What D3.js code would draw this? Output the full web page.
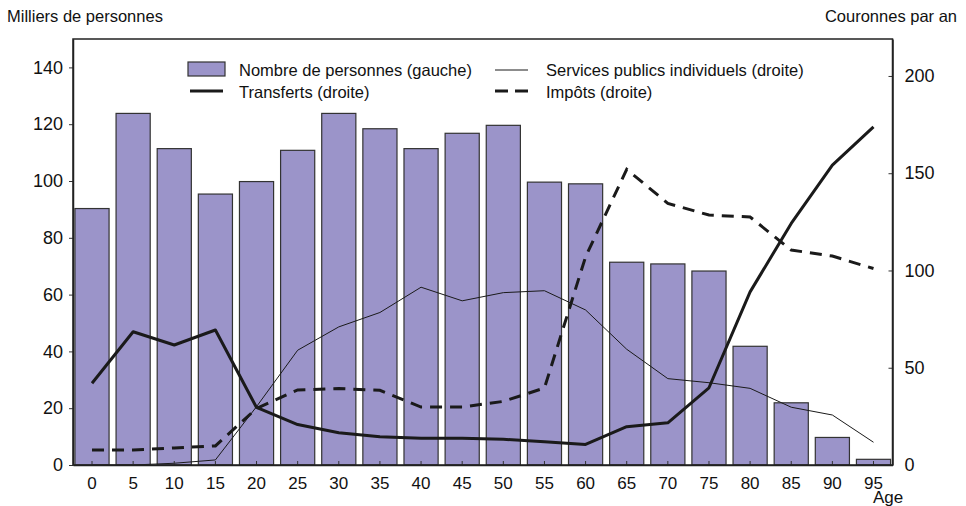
<!DOCTYPE html>
<meta charset="utf-8">
<script src="https://cdn.jsdelivr.net/npm/d3@7"></script>
<style>
  body { margin: 0; background: #fff; }
  text { font-family: "Liberation Sans", Arial, sans-serif; fill: #111; }
</style>
<body>
<script>

var width = 966
var height = 506

var ages = ["0", "5", "10", "15", "20", "25", "30", "35", "40", "45", "50", "55", "60", "65", "70", "75", "80", "85", "90", "95"]
var personnes = [90.3, 123.8, 111.4, 95.4, 99.8, 110.8, 123.8, 118.4, 111.4, 116.8, 119.6, 99.6, 99, 71.4, 70.8, 68.3, 41.8, 21.9, 9.7, 2]
var services = [0, 0, 0.9, 2.6, 30, 59, 71, 78.4, 91.4, 84.4, 88.6, 89.6, 79.7, 59.5, 44.4, 42.3, 39.4, 29.7, 25.7, 11.7]
var transferts = [42, 68.5, 61.7, 69.4, 29.6, 20.8, 16.6, 14.5, 13.7, 13.7, 13.2, 12, 10.6, 19.7, 21.7, 39.7, 89, 124.2, 154.2, 173.8]
var impots = [7.7, 7.7, 8.8, 9.8, 29.1, 38.6, 39.3, 38.4, 29.8, 29.8, 32.7, 39.6, 107, 152, 134.5, 128.5, 127.5, 110.5, 107.4, 101]
var leftTicks = [0, 20, 40, 60, 80, 100, 120, 140]
var rightTicks = [0, 50, 100, 150, 200]

var pLeft = 73, pRight = 892.5, pTop = 39, pBottom = 465

var x = d3.scaleBand().domain(ages).range([pLeft, pRight]).paddingInner(0.17).paddingOuter(0.047)
var yL = d3.scaleLinear().domain([0, 150]).range([pBottom, pTop])
var yR = d3.scaleLinear().domain([0, 219]).range([pBottom, pTop])

var svg = d3.select("body").append("svg")
            .attr("width", width)
            .attr("height", height)

svg.append("g").selectAll("rect")
   .data(personnes)
   .enter().append("rect")
   .attr("x", function(d, i) { return x(ages[i]) })
   .attr("y", function(d) { return yL(d) })
   .attr("width", x.bandwidth())
   .attr("height", function(d) { return yL(0) - yL(d) })
   .attr("fill", "#9b94c9")
   .attr("stroke", "#333")
   .attr("stroke-width", 1.2)

var cx = function(d, i) { return x(ages[i]) + x.bandwidth() / 2 }
var line = d3.line().x(cx).y(function(d) { return yR(d) })

svg.append("path").attr("d", line(services))
   .attr("fill", "none").attr("stroke", "#1a1a1a").attr("stroke-width", 1)
svg.append("path").attr("d", line(impots))
   .attr("fill", "none").attr("stroke", "#1a1a1a").attr("stroke-width", 3).attr("stroke-dasharray", "12,8")
svg.append("path").attr("d", line(transferts))
   .attr("fill", "none").attr("stroke", "#1a1a1a").attr("stroke-width", 3).attr("stroke-linejoin", "round")

// axes
var axL = svg.append("g")
    .attr("transform", "translate(" + pLeft + ",0)")
    .call(d3.axisLeft(yL).tickValues(leftTicks).tickSizeInner(4).tickSizeOuter(0).tickPadding(6))
axL.selectAll("text").style("font-size", "18px")

var axR = svg.append("g")
    .attr("transform", "translate(" + pRight + ",0)")
    .call(d3.axisRight(yR).tickValues(rightTicks).tickSizeInner(-4).tickSizeOuter(0).tickPadding(12))
axR.selectAll("text").style("font-size", "18px")

var axB = svg.append("g")
    .attr("transform", "translate(0," + pBottom + ")")
    .call(d3.axisBottom(x).tickSizeInner(-4).tickSizeOuter(0).tickPadding(12))
axB.selectAll("text").style("font-size", "17px")

svg.selectAll(".domain").attr("stroke", "#222").attr("stroke-width", 1.5)
svg.selectAll(".tick line").attr("stroke", "#333")

svg.append("rect").attr("x", pLeft).attr("y", pTop).attr("width", pRight - pLeft).attr("height", pBottom - pTop)
   .attr("fill", "none").attr("stroke", "#222").attr("stroke-width", 1.5)

svg.append("text").attr("x", 7).attr("y", 22).style("font-size", "16.5px").text("Milliers de personnes")
svg.append("text").attr("x", 957).attr("y", 22).style("font-size", "16.5px").style("text-anchor", "end").text("Couronnes par an")
svg.append("text").attr("x", 888).attr("y", 503).style("font-size", "17px").style("text-anchor", "middle").text("Age")

// legend
var lg = svg.append("g")
lg.append("rect").attr("x", 188).attr("y", 62).attr("width", 37).attr("height", 14)
  .attr("fill", "#9b94c9").attr("stroke", "#333").attr("stroke-width", 1.2)
lg.append("line").attr("x1", 190).attr("x2", 223).attr("y1", 91).attr("y2", 91)
  .attr("stroke", "#1a1a1a").attr("stroke-width", 3)
lg.append("line").attr("x1", 495).attr("x2", 528).attr("y1", 70).attr("y2", 70)
  .attr("stroke", "#1a1a1a").attr("stroke-width", 1)
lg.append("line").attr("x1", 495).attr("x2", 528).attr("y1", 91).attr("y2", 91)
  .attr("stroke", "#1a1a1a").attr("stroke-width", 3).attr("stroke-dasharray", "13,7")

var legendText = [["Nombre de personnes (gauche)", 239, 70], ["Transferts (droite)", 239, 92],
                  ["Services publics individuels (droite)", 546, 70], ["Impôts (droite)", 546, 92]]
lg.selectAll("text.lt").data(legendText).enter().append("text")
  .attr("class", "lt")
  .attr("x", function(d) { return d[1] })
  .attr("y", function(d) { return d[2] })
  .attr("dy", "0.35em")
  .style("font-size", "16.5px")
  .text(function(d) { return d[0] })

</script>
</body>
